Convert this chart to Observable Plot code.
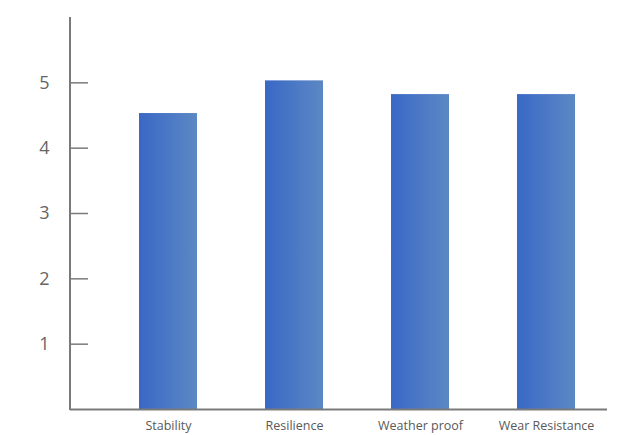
<!DOCTYPE html>
<html>
<head>
<meta charset="utf-8">
<script src="https://cdn.jsdelivr.net/npm/d3@7"></script>
<script src="https://cdn.jsdelivr.net/npm/@observablehq/plot@0.6"></script>
<style>
  html, body { margin: 0; padding: 0; background: #fff; }
</style>
</head>
<body>
<div id="chart"></div>
<script>
const categories = ["Stability", "Resilience", "Weather proof", "Wear Resistance"];
const values = [4.53, 5.03, 4.82, 4.82];
const yTicks = [1, 2, 3, 4, 5];
const gradientStops = ["#3968c6", "#5c88c4"];

const data = categories.map((c, i) => ({category: c, value: values[i]}));

const defsMark = () => {
  const g = d3.create("svg:g");
  const grad = g.append("defs").append("linearGradient")
    .attr("id", "barGrad").attr("x1", 0).attr("x2", 1).attr("y1", 0).attr("y2", 0);
  grad.append("stop").attr("offset", "0%").attr("stop-color", gradientStops[0]);
  grad.append("stop").attr("offset", "100%").attr("stop-color", gradientStops[1]);
  return g.node();
};

const leftAxisLine = (index, scales, values, dims) => {
  const g = d3.create("svg:g");
  g.append("line")
    .attr("x1", dims.marginLeft).attr("x2", dims.marginLeft)
    .attr("y1", dims.marginTop).attr("y2", dims.height - dims.marginBottom + 1)
    .attr("stroke", "#7a7a7a").attr("stroke-width", 2);
  return g.node();
};

const chart = Plot.plot({
  width: 618,
  height: 435,
  marginTop: 17,
  marginBottom: 26,
  marginLeft: 70,
  marginRight: 11,
  style: {fontFamily: "Open Sans", background: "#fff"},
  x: {domain: categories, paddingInner: 0.54, paddingOuter: 0.4, align: 0.68},
  y: {domain: [0, 6]},
  marks: [
    defsMark,
    Plot.barY(data, {x: "category", y: "value", fill: "url(#barGrad)"}),
    Plot.axisY({ticks: yTicks, tickFormat: d3.format("d"), tickSize: -18, tickPadding: 39, stroke: "#7a7a7a", strokeWidth: 1.5, fill: "#666", fontSize: 18, label: null}),
    Plot.axisX({tickSize: 0, tickPadding: 12, fontSize: 12.5, fill: "#595959", label: null}),
    Plot.ruleY([0], {stroke: "#7a7a7a", strokeWidth: 2}),
    leftAxisLine
  ]
});
document.getElementById("chart").appendChild(chart);
</script>
</body>
</html>
